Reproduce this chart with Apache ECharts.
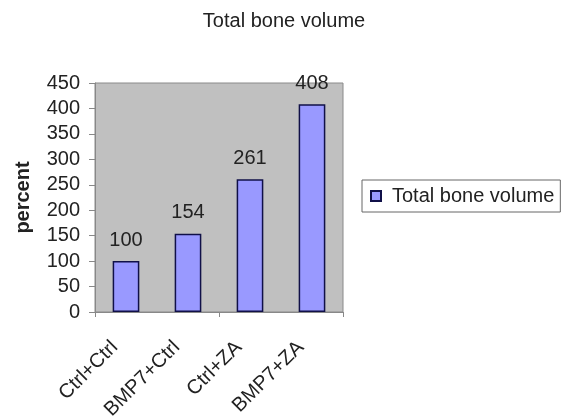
<!DOCTYPE html>
<html><head><meta charset="utf-8">
<script src="https://cdn.jsdelivr.net/npm/echarts@6/dist/echarts.min.js"></script>
<style>html,body{margin:0;padding:0;background:#fff}#c{width:564px;height:417px}</style>
</head><body><div id="c"></div>
<script>
const categories = ['Ctrl+Ctrl', 'BMP7+Ctrl', 'Ctrl+ZA', 'BMP7+ZA'];
const values = [100, 154, 261, 408];
const seriesName = 'Total bone volume';
const chartTitle = 'Total bone volume';
const yAxisName = 'percent';

const chart = echarts.init(document.getElementById('c'), null, {renderer: 'canvas'});
const font = 'Liberation Sans, Arial, sans-serif';
chart.setOption({
  animation: false,
  backgroundColor: '#fff',
  title: {text: chartTitle, left: 279, top: 6, textAlign: 'center',
    textStyle: {fontFamily: font, fontSize: 20, fontWeight: 'normal', color: '#222'}},
  legend: {left: 362, top: 180, width: 200,
    data: [seriesName], icon: 'rect', itemWidth: 10, itemHeight: 10, itemGap: 4,
    borderColor: '#666', borderWidth: 1, padding: [6, 6, 6, 8],
    textStyle: {fontFamily: font, fontSize: 20, color: '#222', padding: [0, 0, 0, 6]}},
  grid: {left: 95, right: 221, top: 83, bottom: 105, show: true, containLabel: false,
    outerBoundsMode: 'none',
    backgroundColor: '#c0c0c0', borderColor: '#8a8a8a', borderWidth: 1},
  xAxis: {type: 'category', data: categories,
    axisLine: {lineStyle: {color: '#888'}},
    axisTick: {show: true, length: 5, interval: function (i) { return i % 2 === 0; }, lineStyle: {color: '#888'}},
    axisLabel: {rotate: 45, margin: 21, interval: 0, padding: [0, 16, 0, 0], fontFamily: font, fontSize: 20, color: '#222'}},
  yAxis: {type: 'value', min: 0, max: 450, interval: 50,
    name: yAxisName, nameLocation: 'middle', nameGap: 62, nameRotate: 90,
    nameTextStyle: {fontFamily: font, fontSize: 20, fontWeight: 'bold', color: '#222'},
    splitLine: {show: false},
    axisLine: {show: true, lineStyle: {color: '#888'}},
    axisTick: {show: true, length: 6, lineStyle: {color: '#888'}},
    axisLabel: {fontFamily: font, fontSize: 20, color: '#222', margin: 15}},
  series: [{name: seriesName, type: 'bar', data: values, barWidth: '43%',
    itemStyle: {color: '#9999ff', borderColor: '#101048', borderWidth: 1.5},
    label: {show: true, position: 'top', distance: 11, fontFamily: font, fontSize: 20, color: '#222'}}]
});
</script></body></html>
